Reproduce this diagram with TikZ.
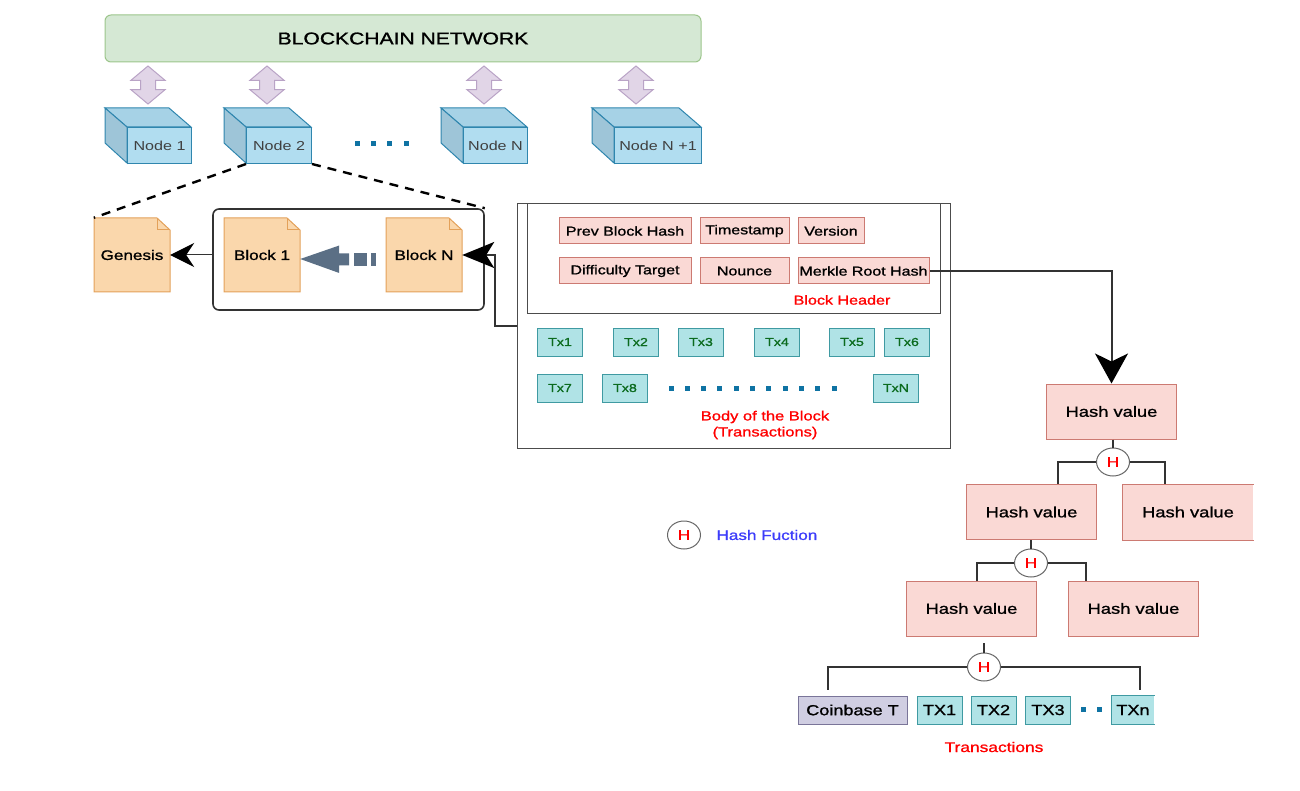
\documentclass[tikz,border=0pt]{standalone}
\usepackage{fontspec}
\usepackage{tikz}
\usetikzlibrary{shapes}
\usetikzlibrary{shapes.arrows}
\usetikzlibrary{arrows.meta}
\usetikzlibrary{positioning}
\newfontfamily\plainfont[FakeStretch=1.24]{Liberation Sans}
\newfontfamily\semifont[FakeStretch=1.24,FakeBold=1.1]{Liberation Sans}
\definecolor{netfill}{HTML}{D5E8D4}
\definecolor{netline}{HTML}{9CC58B}
\definecolor{cubefront}{HTML}{B1DDF0}
\definecolor{cubetop}{HTML}{A6D2E6}
\definecolor{cubeside}{HTML}{9EC5D8}
\definecolor{cubeline}{HTML}{2F86AE}
\definecolor{swapfill}{HTML}{E1D5E7}
\definecolor{swapline}{HTML}{B9A3C6}
\definecolor{docfill}{HTML}{FAD7AC}
\definecolor{docline}{HTML}{E3A15A}
\definecolor{slate}{HTML}{5B6F85}
\definecolor{hashfill}{HTML}{FAD9D5}
\definecolor{hashline}{HTML}{CC7A72}
\definecolor{txfill}{HTML}{B0E3E6}
\definecolor{txline}{HTML}{3F9AA2}
\definecolor{txtext}{HTML}{0B6B1E}
\definecolor{coinfill}{HTML}{D0CEE2}
\definecolor{coinline}{HTML}{7A7599}
\definecolor{dotblue}{HTML}{0F73A3}
\definecolor{wire}{HTML}{333333}
\tikzset{
  netbar/.style={draw=netline,fill=netfill,rounded corners=6pt,line width=1pt,minimum width=596pt,minimum height=47pt,font={\semifont\fontsize{17}{19}\selectfont}},
  swaparrow/.style={shape=double arrow,rotate=90,draw=swapline,fill=swapfill,line width=1pt,inner sep=7pt,minimum height=38pt,double arrow head extend=9.5pt,double arrow tip angle=100},
  cubelabel/.style={draw=cubeline,fill=cubefront,line width=1pt,minimum height=36pt,inner sep=0pt,text=black!75,font={\plainfont\fontsize{13}{15}\selectfont}},
  docbox/.style={inner sep=0pt,minimum width=76pt,minimum height=74pt,font={\semifont\fontsize{13.8}{15}\selectfont}},
  docshape/.style={draw=docline,fill=docfill,line width=1pt},
  chainbox/.style={draw=wire,rounded corners=6pt,line width=1.6pt},
  frame/.style={draw=black!70,line width=1pt},
  fieldbox/.style={draw=hashline,fill=hashfill,line width=1pt,minimum height=26pt,inner sep=0pt,font={\semifont\fontsize{12.9}{15}\selectfont}},
  txbox/.style={draw=txline,fill=txfill,line width=1pt,minimum width=45pt,minimum height=28pt,inner sep=0pt,text=txtext,font={\semifont\fontsize{11.5}{14}\selectfont}},
  hashbox/.style={draw=hashline,fill=hashfill,line width=1pt,minimum width=130pt,minimum height=55pt,inner sep=0pt,font={\semifont\fontsize{14.8}{16}\selectfont}},
  hnode/.style={shape=ellipse,draw=black!60,fill=white,line width=1pt,minimum width=33pt,minimum height=28pt,inner sep=0pt,text=red,font={\semifont\fontsize{14}{16}\selectfont}},
  bottombox/.style={line width=1pt,minimum height=28pt,inner sep=0pt,font={\semifont\fontsize{14.6}{16}\selectfont}},
  redtext/.style={text=red,align=center,font={\semifont\fontsize{13}{16}\selectfont}},
  bigtip/.style 2 args={-{Stealth[length=#1,width=#2,inset=8pt,color=black]}},
  link/.style={draw=wire,line width=2pt},
  dashlink/.style={draw=black,line width=2.4pt,dash pattern=on 9pt off 7pt}
}
\newcommand{\cubenode}[4]{
  \filldraw[draw=cubeline,fill=cubetop,line width=1pt] (#2,108) -- (#2+#3-22,108) -- (#2+#3,127) -- (#2+22,127) -- cycle;
  \filldraw[draw=cubeline,fill=cubeside,line width=1pt] (#2,108) -- (#2+22,127) -- (#2+22,163) -- (#2,143) -- cycle;
  \node[cubelabel,minimum width=#3-22,anchor=north west] (#1) at (#2+22,127) {#4};
}
\newcommand{\docnode}[3]{
  \filldraw[docshape] (#2-38,218) -- (#2+25,218) -- (#2+38,230) -- (#2+38,292) -- (#2-38,292) -- cycle;
  \draw[docshape,fill=none] (#2+25,218) -- (#2+25,230) -- (#2+38,230);
  \node[docbox] (#1) at (#2,255) {#3};
}
\begin{document}
\begin{tikzpicture}[x=1pt,y=-1pt]
  \useasboundingbox (0,0) rectangle (1300,791);

  \node[netbar] (network) at (403,38.5) {BLOCKCHAIN NETWORK};
  \node[swaparrow] (swapa) at (148,85) {};
  \node[swaparrow] (swapb) at (267,85) {};
  \node[swaparrow] (swapc) at (484,85) {};
  \node[swaparrow] (swapd) at (636,85) {};

  \cubenode{nodea}{105}{86}{Node 1}
  \cubenode{nodeb}{224}{87}{Node 2}
  \cubenode{nodec}{441}{86}{Node N}
  \cubenode{noded}{592}{109}{Node N +1}
  \foreach \x in {357,373,389,406}
    \fill[dotblue] (\x-2.5,141.5) rectangle (\x+2.5,146.5);

  \node[chainbox,minimum width=271pt,minimum height=101pt] (chain) at (348.5,259.5) {};
  \docnode{genesis}{132}{Genesis}
  \docnode{blockone}{262}{Block 1}
  \docnode{blockn}{424}{Block N}

  \draw[dashlink] (nodeb.south west) -- (genesis.north west);
  \draw[dashlink] (nodeb.south east) -- (chain.north east);
  \draw[draw=wire,line width=1pt,bigtip={24pt}{24pt}] (chain.west |- genesis.east) -- (genesis.east);
  \fill[slate] ([yshift=-4pt]blockone.east) -- ++(39,-13.5) -- ++(0,8) -- ++(10,0) -- ++(0,12) -- ++(-10,0) -- ++(0,7.5) -- cycle;
  \fill[slate] (354,253) rectangle (367,266);
  \fill[slate] (371,253) rectangle (376,266);

  \node[frame,minimum width=433pt,minimum height=245pt,anchor=north west] (blockbody) at (517,203) {};
  \node[frame,minimum width=413pt,minimum height=110pt,anchor=north west] (blockhead) at (527,203) {};
  \coordinate (bodyout) at (517,326);
  \draw[link,bigtip={32pt}{26pt}] (bodyout) -- ++(-22,0) |- (blockn.east);

  \node[fieldbox,minimum width=132pt] (prevhash) at (625,231) {Prev Block Hash};
  \node[fieldbox,minimum width=89pt] (timestamp) at (744.5,231) {Timestamp};
  \node[fieldbox,minimum width=66pt] (version) at (831,231) {Version};
  \node[fieldbox,minimum width=132pt] (difficulty) at (625,271) {Difficulty Target};
  \node[fieldbox,minimum width=89pt] (nounce) at (744.5,271) {Nounce};
  \node[fieldbox,minimum width=131pt] (merkle) at (863.5,271) {Merkle Root Hash};
  \node[redtext] (headtext) at (842,300) {Block Header};

  \foreach \n/\x/\y/\t in {a/560/342/Tx1,b/636/342/Tx2,c/701/342/Tx3,d/777/342/Tx4,e/852/342/Tx5,f/907/342/Tx6,g/560/388/Tx7,h/625/388/Tx8,n/896/388/TxN}
    \node[txbox] (tx\n) at (\x,\y) {\t};
  \foreach \i in {0,...,10}
    \fill[dotblue] (671+\i*16.3-2.5,385.5) rectangle (671+\i*16.3+2.5,390.5);
  \node[redtext,font={\semifont\fontsize{13.3}{16}\selectfont}] (bodytext) at (765,425) {Body of the Block\\(Transactions)};

  \node[hashbox] (hasha) at (1111.5,411.5) {Hash value};
  \node[hashbox] (hashb) at (1031.5,512) {Hash value};
  \node[hashbox,draw=none] (hashc) at (1188,512) {Hash value};
  \draw[draw=hashline,line width=1pt] (hashc.north east) -- (hashc.north west) -- (hashc.south west) -- (hashc.south east);
  \node[hashbox] (hashd) at (971.5,608.5) {Hash value};
  \node[hashbox] (hashe) at (1133.5,608.5) {Hash value};

  \node[hnode] (ha) at (1113,462) {H};
  \node[hnode] (hb) at (1031,563) {H};
  \node[hnode] (hc) at (984,667) {H};
  \node[hnode] (hlegend) at (684,535) {H};
  \node[anchor=west,text={rgb,255:red,60;green,60;blue,250},font={\semifont\fontsize{13.8}{14}\selectfont}] (legendtext) at (713,535) {Hash Fuction};

  \draw[link] (hasha.south -| ha.north) -- (ha.north);
  \draw[link] (ha.west) -| ([xshift=26.5pt]hashb.north);
  \draw[link] (ha.east) -| ([xshift=-23pt]hashc.north);
  \draw[link] (hashb.south -| hb.north) -- (hb.north);
  \draw[link] (hb.west) -| ([xshift=5.5pt]hashd.north);
  \draw[link] (hb.east) -| ([xshift=-47.5pt]hashe.north);

  \node[bottombox,draw=coinline,fill=coinfill,minimum width=109pt] (coinbase) at (852.5,710) {Coinbase T};
  \node[bottombox,draw=txline,fill=txfill,minimum width=45pt] (txone) at (939.5,710) {TX1};
  \node[bottombox,draw=txline,fill=txfill,minimum width=45pt] (txtwo) at (993.5,710) {TX2};
  \node[bottombox,draw=txline,fill=txfill,minimum width=45pt] (txthree) at (1048,710) {TX3};
  \node[bottombox,fill=txfill,minimum width=42pt] (txlast) at (1133,710) {TXn};
  \draw[draw=txline,line width=1pt] (txlast.north east) -- (txlast.north west) -- (txlast.south west) -- (txlast.south east);
  \foreach \x in {1083,1099}
    \fill[dotblue] (\x-2.5,707) rectangle (\x+2.5,712);
  \node[redtext,font={\semifont\fontsize{14}{16}\selectfont}] (txtext) at (994,747) {Transactions};

  \coordinate (stub) at (984,643);
  \coordinate (coinout) at (828,690);
  \coordinate (lastout) at (1140,690);
  \draw[link] (stub) -- (hc.north);
  \draw[link] (hc.west) -| (coinout);
  \draw[link] (hc.east) -| (lastout);

  \draw[link,bigtip={30pt}{33pt}] (merkle.east) -| (hasha.north);
\end{tikzpicture}
\end{document}
